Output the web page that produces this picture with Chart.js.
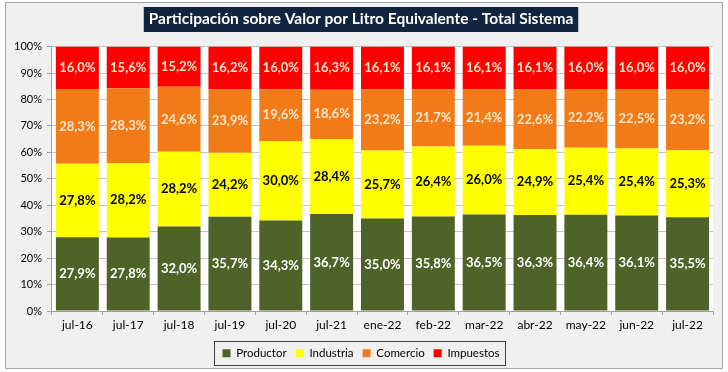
<!DOCTYPE html>
<html><head><meta charset="utf-8">
<script src="https://cdn.jsdelivr.net/npm/chart.js@4"></script>
<style>html,body{margin:0;padding:0;background:#fff;}#wrap{width:728px;height:372px;}</style>
</head><body><div id="wrap"><canvas id="c" width="728" height="372"></canvas></div>
<script>
const categories = ['jul-16','jul-17','jul-18','jul-19','jul-20','jul-21','ene-22','feb-22','mar-22','abr-22','may-22','jun-22','jul-22'];
const productor = [27.9,27.8,32.0,35.7,34.3,36.7,35.0,35.8,36.5,36.3,36.4,36.1,35.5];
const industria = [27.8,28.2,28.2,24.2,30.0,28.4,25.7,26.4,26.0,24.9,25.4,25.4,25.3];
const comercio  = [28.3,28.3,24.6,23.9,19.6,18.6,23.2,21.7,21.4,22.6,22.2,22.5,23.2];
const impuestos = [16.0,15.6,15.2,16.2,16.0,16.3,16.1,16.1,16.1,16.1,16.0,16.0,16.0];
const yTicks = [0,10,20,30,40,50,60,70,80,90,100];
const titleText = 'Participación sobre Valor por Litro Equivalente - Total Sistema';

const FONT = 'Lato, "Open Sans", sans-serif';
const TITLE_SIZE = 15.5;

const bgPlugin = {
  id: 'bg',
  beforeDraw(chart) {
    const ctx = chart.ctx;
    ctx.save();
    ctx.fillStyle = '#fff';
    ctx.fillRect(0,0,chart.width,chart.height);
    ctx.fillStyle = '#f0f0f0';
    ctx.fillRect(5.5,2.5,717,366);
    ctx.strokeStyle = '#a6a6a6';
    ctx.lineWidth = 1;
    ctx.strokeRect(5.5,2.5,717,366);
    const a = chart.chartArea;
    ctx.fillStyle = '#ffffff';
    ctx.fillRect(a.left, a.top, a.right - a.left, a.bottom - a.top);
    const t = chart.titleBlock;
    if (t) {
      ctx.font = 'bold ' + TITLE_SIZE + 'px ' + FONT;
      const w = ctx.measureText(titleText).width;
      const cx = (t.left + t.right) / 2;
      ctx.fillStyle = '#10243e';
      ctx.fillRect(cx - w/2 - 5, 7, w + 10, 25);
    }
    ctx.restore();
  },
  afterDraw(chart) {
    const ctx = chart.ctx;
    const hb = chart.legend.legendHitBoxes;
    if (!hb || !hb.length) return;
    let l = Infinity, r = -Infinity, t = Infinity, b = -Infinity;
    hb.forEach(h => { l = Math.min(l, h.left); r = Math.max(r, h.left + h.width); t = Math.min(t, h.top); b = Math.max(b, h.top + h.height); });
    const cy = (t + b) / 2;
    ctx.save();
    ctx.strokeStyle = '#404040';
    ctx.lineWidth = 1;
    ctx.strokeRect(Math.round(l - 8) + 0.5, Math.round(cy - 12) + 0.5, Math.round(r - l + 14), 24);
    ctx.restore();
  }
};

const labelPlugin = {
  id: 'vals',
  afterDatasetsDraw(chart) {
    const ctx = chart.ctx;
    ctx.save();
    ctx.font = 'bold 13px ' + FONT;
    ctx.textAlign = 'center';
    ctx.textBaseline = 'middle';
    chart.data.datasets.forEach((ds, i) => {
      const meta = chart.getDatasetMeta(i);
      meta.data.forEach((bar, j) => {
        const v = ds.data[j];
        const yc = (bar.y + bar.base) / 2;
        ctx.fillStyle = ds.labelColor;
        ctx.fillText(v.toFixed(1).replace('.', ',') + '%', bar.x, yc);
      });
    });
    ctx.restore();
  }
};

new Chart(document.getElementById('c'), {
  type: 'bar',
  data: {
    labels: categories,
    datasets: [
      {label:'Productor', data: productor, backgroundColor:'#4f6228', labelColor:'#ffffff'},
      {label:'Industria', data: industria, backgroundColor:'#ffff00', labelColor:'#000000'},
      {label:'Comercio', data: comercio, backgroundColor:'#f27b18', labelColor:'#fde6cc'},
      {label:'Impuestos', data: impuestos, backgroundColor:'#ff0000', labelColor:'#fde6cc'}
    ]
  },
  options: {
    responsive: false,
    animation: false,
    devicePixelRatio: 1,
    layout: {padding: {left: 9, right: 15, top: 0, bottom: 3}},
    datasets: {bar: {categoryPercentage: 1.0, barPercentage: 0.845}},
    scales: {
      x: {
        stacked: true,
        afterFit(axis) { axis.height += 3; },
        grid: {display: true, drawOnChartArea: false, drawTicks: true, tickLength: 4, color:'#a0a0a0', offset: true},
        border: {display: true, color:'#a0a0a0'},
        ticks: {color:'#000', font:{family: FONT, size: 12}, padding: 3}
      },
      y: {
        stacked: true, min: 0, max: 100,
        afterBuildTicks(axis) { axis.ticks = yTicks.map(v => ({value: v})); },
        grid: {color:'#c4c4c4', tickLength: 5, tickColor:'#a0a0a0', drawTicks: true},
        border: {display: true, color:'#a0a0a0'},
        ticks: {color:'#000', font:{family: FONT, size: 11}, padding: 5, callback: v => v + '%'}
      }
    },
    plugins: {
      title: {display: true, text: titleText, color:'#ffffff', font:{family: FONT, size: TITLE_SIZE, weight:'bold'}, padding:{top: 10, bottom: 18}},
      legend: {position:'bottom', labels:{boxWidth: 8, boxHeight: 8, color:'#000', font:{family: FONT, size: 11.5}, padding: 9}},
      tooltip: {enabled: false}
    }
  },
  plugins: [bgPlugin, labelPlugin]
});
</script>
</body></html>
